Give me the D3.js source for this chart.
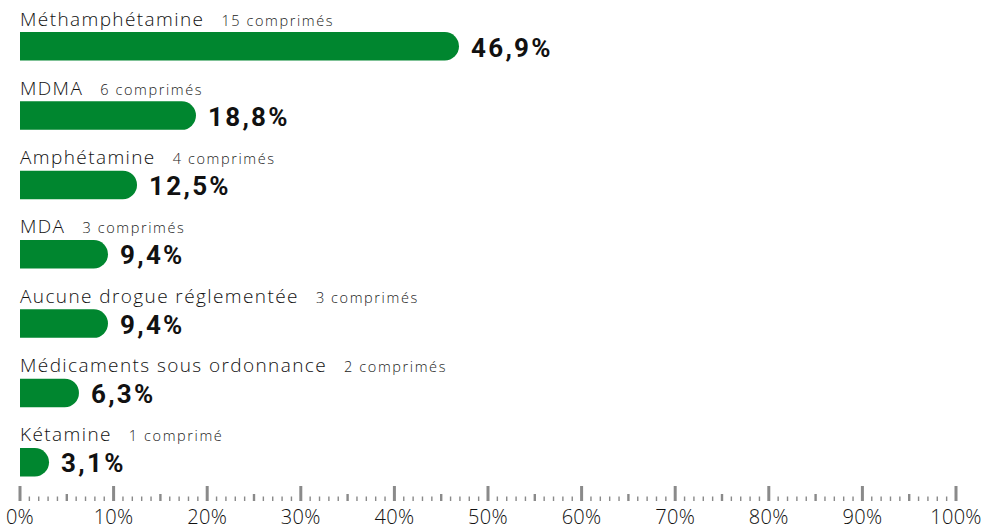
<!DOCTYPE html>
<html><head><meta charset="utf-8">
<script src="https://cdn.jsdelivr.net/npm/d3@7"></script>
<style>
html,body{margin:0;padding:0;background:#fff;}
svg{display:block;}
</style></head>
<body>
<svg id="chart" width="988" height="530"></svg>
<script>
const categories = ["Méthamphétamine","MDMA","Amphétamine","MDA","Aucune drogue réglementée","Médicaments sous ordonnance","Kétamine"];
const counts = ["15 comprimés","6 comprimés","4 comprimés","3 comprimés","3 comprimés","2 comprimés","1 comprimé"];
const values = [46.9,18.8,12.5,9.4,9.4,6.3,3.1];
const valueLabels = ["46,9%","18,8%","12,5%","9,4%","9,4%","6,3%","3,1%"];
const majorTicks = [0,10,20,30,40,50,60,70,80,90,100];
const tickLabels = ["0%","10%","20%","30%","40%","50%","60%","70%","80%","90%","100%"];

const svg = d3.select("#chart");
const x = d3.scaleLinear().domain([0,100]).range([20,956]);
const y = d3.scaleBand().domain(categories).range([0, 7*69.33]).paddingInner(0).paddingOuter(0);
const barTop = 32, barH = 28.5, r = barH/2;
const green = "#00862f";
const labFont = "'Open Sans', Roboto, sans-serif";
const font = "Roboto, 'Noto Sans', sans-serif";

const rows = svg.append("g").selectAll("g").data(categories).join("g")
  .attr("transform", d => `translate(0,${y(d)})`);

rows.append("path")
  .attr("fill", green)
  .attr("d", (d,i) => {
    const x0 = x(0), x1 = x(values[i]), t = barTop, b = barTop + barH;
    const rr = Math.min(r, x1 - x0);
    return `M${x0},${t}H${x1-rr}A${rr},${r} 0 0 1 ${x1},${t+r}A${rr},${r} 0 0 1 ${x1-rr},${b}H${x0}Z`;
  });

const lab = rows.append("text")
  .attr("x", x(0)).attr("y", 25.5)
  .attr("font-family", labFont).attr("fill", "#111");
lab.append("tspan").attr("font-size", 19).attr("font-weight", 300).attr("letter-spacing", 1.4).text(d => d);
lab.append("tspan").attr("dx", 17).attr("font-size", 14.5).attr("font-weight", 300).attr("letter-spacing", 1.6).attr("fill","#222")
  .text((d,i) => counts[i]);

rows.append("text")
  .attr("x", (d,i) => x(values[i]) + 12)
  .attr("y", 56.5)
  .attr("font-family", font).attr("font-weight", 700).attr("font-size", 26)
  .attr("letter-spacing", 2.3)
  .attr("fill", "#111")
  .text((d,i) => valueLabels[i]);

// axis
const axisBottom = 501;
const allTicks = d3.range(0,101,1);
const ax = svg.append("g");
ax.selectAll("rect").data(allTicks).join("rect")
  .attr("fill", "#8a8a8a")
  .attr("x", d => { const w = d%10===0?3:(d%5===0?2.4:1.4); return x(d)-w/2; })
  .attr("width", d => d%10===0?3:(d%5===0?2.4:1.4))
  .attr("y", d => axisBottom - (d%10===0?15:(d%5===0?7:4.5)))
  .attr("height", d => d%10===0?15:(d%5===0?7:4.5));

ax.selectAll("text").data(majorTicks).join("text")
  .attr("x", d => x(d)).attr("y", 524)
  .attr("text-anchor", "middle")
  .attr("font-family", labFont).attr("font-weight", 300).attr("font-size", 20)
  .attr("letter-spacing", 0.3)
  .attr("fill", "#111")
  .text((d,i) => tickLabels[i]);
</script>
</body></html>
